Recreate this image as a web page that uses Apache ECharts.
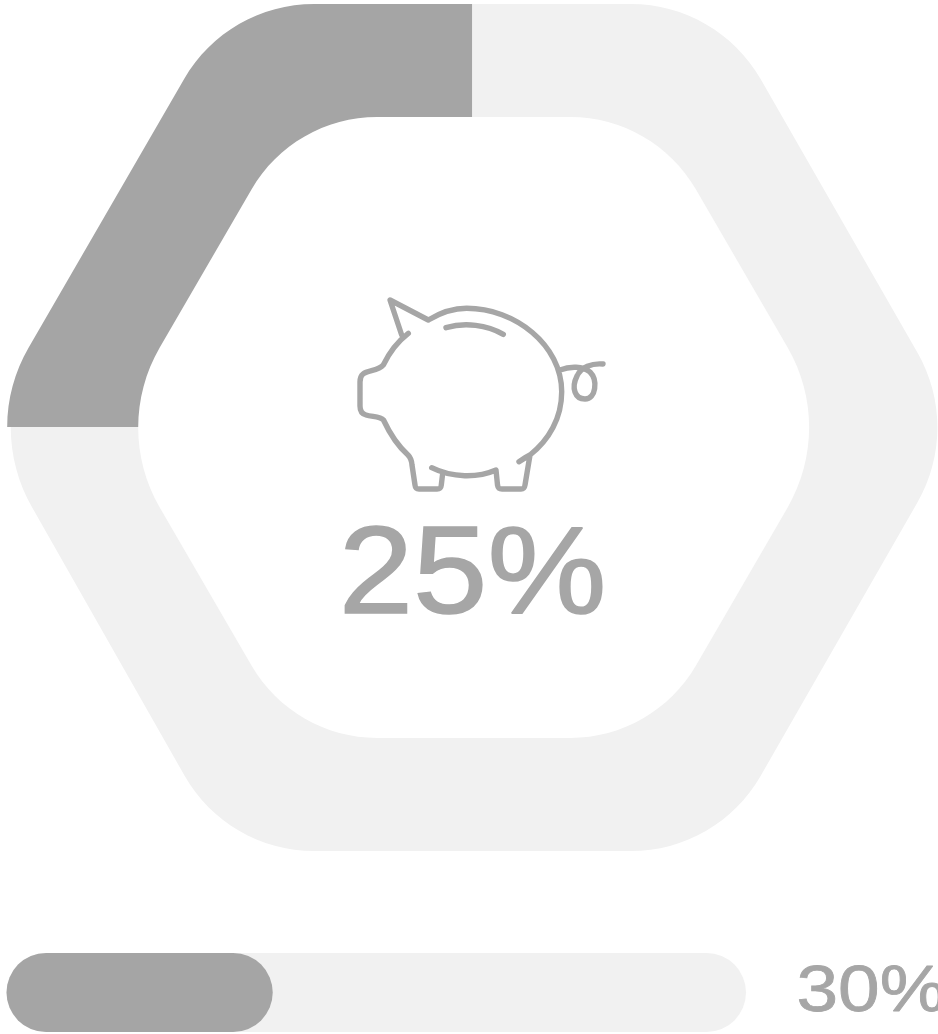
<!DOCTYPE html>
<html>
<head>
<meta charset="utf-8">
<script src="https://cdn.jsdelivr.net/npm/echarts@6/dist/echarts.min.js"></script>
<style>
html, body { margin: 0; padding: 0; background: #fff; }
#main { width: 938px; height: 1034px; }
</style>
</head>
<body>
<div id="main"></div>
<script>
// gauge part and the remainder, drawn as a pie and cut to the hexagon ring
var gaugeNames = ['saved', 'rest'];
var gaugeValues = [25, 75];

// lower progress bar, fill length, label as printed
var barCategories = ['progress'];
var barTrack = [100];
var barFill = [36];
var barLabels = ['30%'];

var DARK = '#a5a5a5';
var LIGHT = '#f1f1f1';
var TEXT = '#a6a6a6';
var FONT = '"Liberation Sans", Arial, sans-serif';

// one rounded corner, v is the sharp vertex
function corner(prev, v, next, r) {
    var t = r * Math.tan(Math.PI / 6);
    var h = r * 4 / 3 * Math.tan(Math.PI / 12);
    function along(to, d) {
        var dx = to[0] - v[0], dy = to[1] - v[1], l = Math.sqrt(dx * dx + dy * dy);
        return [v[0] + dx / l * d, v[1] + dy / l * d];
    }
    var a = along(prev, t), b = along(next, t), ca = along(prev, t - h), cb = along(next, t - h);
    return { a: a, d: 'L' + a + ' C' + ca + ' ' + cb + ' ' + b };
}

// outer ring edge, counter clockwise on screen so it punches a hole in the rect
// left corner is split because the dark part is a bit wider there
var oTR = [717.5, 4], oTL = [227.5, 4], oBL = [227.5, 851], oBR = [717.5, 851], oR = [960.5, 427.5];
var ringOuter =
    'M0 0 L938 0 L938 905 L0 905 Z M' + corner(oBR, oR, oTR, 150).a + ' ' +
    corner(oBR, oR, oTR, 150).d + ' ' +
    corner(oR, oTR, oTL, 150).d + ' ' +
    corner(oTR, oTL, [-17.5, 427.5], 150).d + ' ' +
    'L28.7 347.5 C14.6 371.8 7.2 399.4 7.2 427 L10.75 427 ' +
    'C10.75 455.6 18.2 483.2 32.2 507.5 ' +
    corner([-14, 427.5], oBL, oBR, 150).d + ' ' +
    corner(oBL, oBR, oR, 150).d + ' Z';

var iV = [[834, 427.5], [654, 117], [293.5, 117], [113.4, 427.5], [293.5, 738], [654, 738]];
var iR = [160, 145, 145, 160, 145, 145];
var ringInner = '';
iV.forEach(function (v, i) {
    var c = corner(iV[(i + 5) % 6], v, iV[(i + 1) % 6], iR[i]);
    ringInner += (i === 0 ? 'M' + c.a + ' ' : '') + c.d + ' ';
});
ringInner += 'Z';

var pigOutline = [
    // head, snout and front leg
    'M408.3 333.3 C397 342 389 353 383.3 365 C378 371 368 370 363 374 C360.5 376 360 379 360 382 L360 406 C360 411 362 414 366 415 C372 417 380 416 383.5 420 C390 434 398 446 408 455 C411 458 411.7 461 412 465 L415 485 C415.3 488 416.5 489 419 489 L437 489 C440 489 441 488 441.3 485 L442.7 473.3',
    // belly and back leg
    'M431.7 467.7 C452 478 478 478 496 470 L497.5 485 C498 488 499 489 502 489 L521 489 C523.5 489 524.6 488 525 485 L530 455',
    // back
    'M519 461.7 C523 459 526 457 530 455 C549 440 561.7 418 561.7 391.7 C561.7 345 515 308.3 466.7 308.3 C452 308.3 440 313 428.3 320',
    // ear
    'M428.3 320 L390 300 L401.7 335',
    // coin slot
    'M446 327.7 C465 322 487 325 503.3 334.3',
    // tail
    'M560 370 C570 366 583 366 590 372 C598 380 596 399 585 399 C575 399 571 388 577 376 C581 367 592 363 603 364'
].join(' ');

var chart = echarts.init(document.getElementById('main'));

chart.setOption({
    animation: false,
    backgroundColor: '#fff',
    grid: { left: 6.5, width: 739.5, top: 953, height: 79 },
    xAxis: { type: 'value', min: 0, max: 100, show: false },
    yAxis: { type: 'category', data: barCategories, show: false },
    graphic: [
        {
            type: 'text',
            z: 200,
            x: 472.5,
            y: 579,
            scaleX: 1.07,
            silent: true,
            style: {
                text: gaugeValues[0] + '%',
                fontFamily: FONT,
                fontSize: 125,
                fill: TEXT,
                stroke: TEXT,
                lineWidth: 1.5,
                align: 'center',
                verticalAlign: 'middle'
            }
        },
        {
            type: 'text',
            z: 200,
            x: 796.5,
            y: 993.5,
            scaleX: 1.15,
            silent: true,
            style: {
                text: barLabels[0],
                fontFamily: FONT,
                fontSize: 65,
                fill: TEXT,
                stroke: TEXT,
                lineWidth: 0.8,
                align: 'left',
                verticalAlign: 'middle'
            }
        }
    ],
    series: [
        {
            type: 'pie',
            silent: true,
            z: 1,
            center: [472.3, 427],
            radius: [0, 470],
            startAngle: 90,
            clockwise: false,
            label: { show: false },
            labelLine: { show: false },
            data: gaugeValues.map(function (v, i) {
                return { name: gaugeNames[i], value: v, itemStyle: { color: i === 0 ? DARK : LIGHT } };
            })
        },
        {
            // white cover outside and inside the ring, then the pig
            type: 'custom',
            coordinateSystem: 'none',
            silent: true,
            z: 5,
            data: [0],
            renderItem: function () {
                return {
                    type: 'group',
                    children: [
                        { type: 'path', shape: { pathData: ringOuter }, style: { fill: '#fff' } },
                        { type: 'path', shape: { pathData: ringInner }, style: { fill: '#fff' } },
                        {
                            type: 'path',
                            shape: { pathData: pigOutline },
                            style: { fill: null, stroke: TEXT, lineWidth: 5.4, lineCap: 'round', lineJoin: 'round' }
                        }
                    ]
                };
            }
        },
        {
            type: 'bar',
            silent: true,
            z: 10,
            barWidth: 79,
            barGap: '-100%',
            data: barTrack,
            itemStyle: { color: LIGHT, borderRadius: 39.5 }
        },
        {
            type: 'bar',
            silent: true,
            z: 11,
            barWidth: 79,
            barGap: '-100%',
            data: barFill,
            itemStyle: { color: DARK, borderRadius: 39.5 }
        }
    ]
});
</script>
</body>
</html>
